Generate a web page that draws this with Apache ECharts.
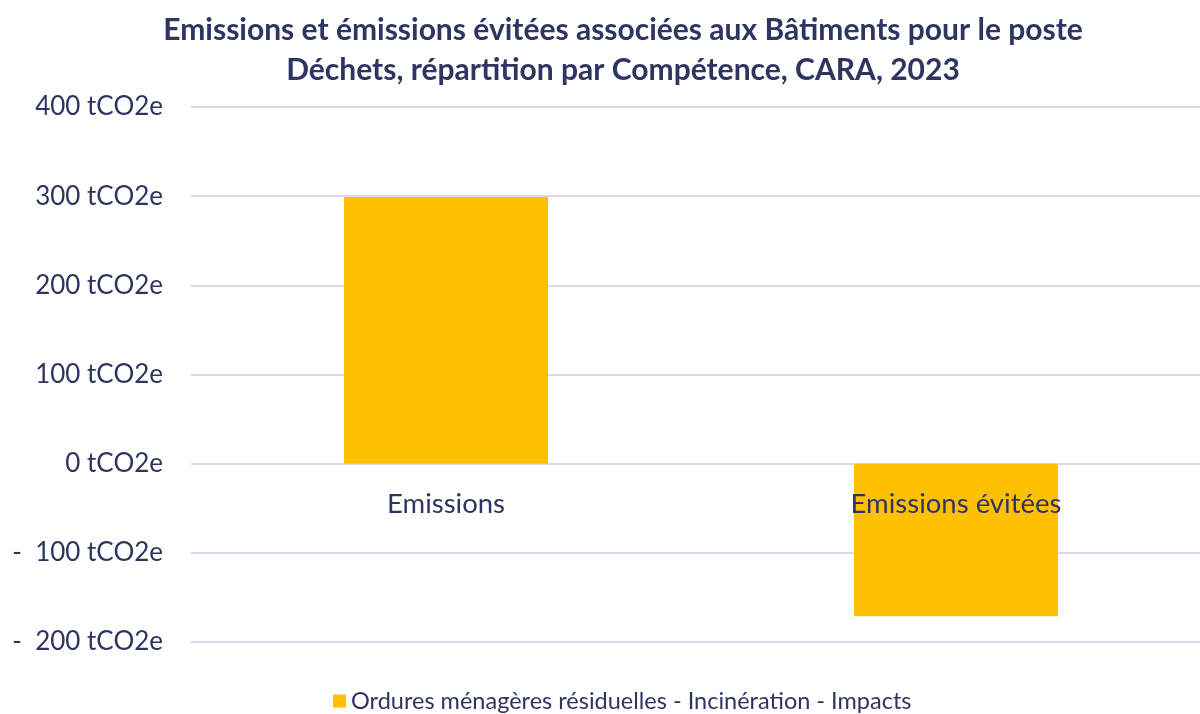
<!DOCTYPE html>
<html>
<head>
<meta charset="utf-8">
<script src="https://cdn.jsdelivr.net/npm/echarts@6/dist/echarts.min.js"></script>
<style>
  html, body { margin: 0; padding: 0; background: #ffffff; overflow: hidden; }
  #chart { width: 1211px; height: 714px; }
</style>
</head>
<body>
<div id="chart"></div>
<script>
// Waste-related emissions and avoided emissions for buildings, CARA 2023
const titleLines = [
  'Emissions et émissions évitées associées aux Bâtiments pour le poste',
  'Déchets, répartition par Compétence, CARA, 2023'
];
const categories = ['Emissions', 'Emissions évitées'];
const seriesName = 'Ordures ménagères résiduelles - Incinération - Impacts';
const seriesValues = [299, -171];
const yTicks = { min: -200, max: 400, interval: 100 };
const unit = 'tCO2e';

const navy = '#2E3561';
const fontFamily = 'Lato, "Noto Sans", sans-serif';

const chart = echarts.init(document.getElementById('chart'));

function formatTick(v) {
  if (v < 0) return '-  ' + Math.abs(v) + ' ' + unit;
  return v + ' ' + unit;
}

chart.setOption({
  animation: false,
  backgroundColor: '#ffffff',
  title: {
    text: titleLines.join('\n'),
    left: 618,
    textAlign: 'center',
    top: 5,
    textStyle: {
      color: navy,
      fontFamily: fontFamily,
      fontWeight: 'bold',
      fontSize: 30,
      lineHeight: 40
    }
  },
  legend: {
    top: 684,
    left: 328,
    itemWidth: 13,
    itemHeight: 13,
    itemGap: 6,
    icon: 'rect',
    textStyle: { color: navy, fontFamily: fontFamily, fontSize: 23.5 },
    data: [seriesName]
  },
  grid: {
    left: 191,
    right: 0,
    top: 107,
    bottom: 72,
    containLabel: false
  },
  xAxis: {
    type: 'category',
    data: categories,
    z: 5,
    axisLine: { show: false, onZero: false },
    axisTick: { show: false },
    axisLabel: {
      color: navy,
      fontFamily: fontFamily,
      fontSize: 27.5,
      margin: 26
    }
  },
  yAxis: {
    type: 'value',
    min: yTicks.min,
    max: yTicks.max,
    interval: yTicks.interval,
    axisLine: { show: false },
    axisTick: { show: false },
    splitLine: { lineStyle: { color: '#D9D9EE', width: 2 } },
    axisLabel: {
      color: navy,
      fontFamily: fontFamily,
      fontSize: 26,
      margin: 28,
      formatter: formatTick
    }
  },
  series: [{
    name: seriesName,
    type: 'bar',
    data: seriesValues,
    barWidth: '40%',
    itemStyle: { color: '#FFC000' }
  }]
});

// Place the category axis on the zero line of the value axis
const zeroY = chart.convertToPixel({ yAxisIndex: 0 }, 0);
const bottomY = chart.convertToPixel({ yAxisIndex: 0 }, yTicks.min);
chart.setOption({ xAxis: { offset: -(bottomY - zeroY) } });
</script>
</body>
</html>
